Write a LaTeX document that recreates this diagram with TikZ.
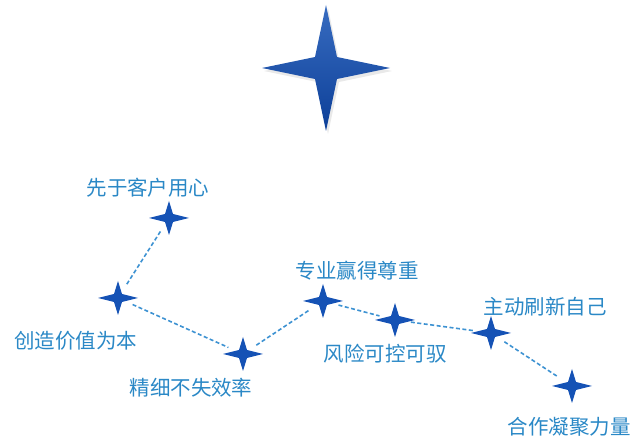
\documentclass[tikz,border=0pt]{standalone}
\usepackage{fontspec}
\setmainfont{Noto Sans CJK SC}
\definecolor{starblue}{HTML}{1552B5}
\definecolor{stardark}{HTML}{0C3F98}
\definecolor{labelblue}{HTML}{2A88C6}
\definecolor{lineblue}{HTML}{3D92D2}
\tikzset{
  lbl/.style={font=\fontsize{20.5}{20.5}\selectfont, text=labelblue, inner sep=0pt},
  link/.style={draw=lineblue, line width=1.6pt, dash pattern=on 4pt off 2.5pt, shorten <=16pt, shorten >=16pt},
  smallstar/.pic={\fill[starblue] (-20,0) -- (-4,-4) -- (0,-17) -- (4,-4) -- (20,0) -- (4,4) -- (0,17) -- (-4,4) -- cycle;},
}
\begin{document}
\begin{tikzpicture}[x=1pt,y=-1pt]
\useasboundingbox (0,0) rectangle (633,446);
% big star
\coordinate (big) at (326,68);
\fill[black!25, opacity=0.35] ([shift={(2,3)}]big) ++(-64,0) -- ++(53,-11) -- ++(11,-52) -- ++(11,52) -- ++(53,11) -- ++(-53,11) -- ++(-11,52) -- ++(-11,-52) -- cycle;
\shade[top color=starblue!85!white, bottom color=stardark] (big) ++(-64,0) -- ++(53,-11) -- ++(11,-52) -- ++(11,52) -- ++(53,11) -- ++(-53,11) -- ++(-11,52) -- ++(-11,-52) -- cycle;
% small stars
\coordinate (s1) at (169,218);
\coordinate (s2) at (118,298);
\coordinate (s3) at (243,354);
\coordinate (s4) at (323,301);
\coordinate (s5) at (395,320);
\coordinate (s6) at (491,333);
\coordinate (s7) at (572,386);
\foreach \s in {s1,s2,s3,s4,s5,s6,s7} \pic at (\s) {smallstar};
% connectors
\draw[link] (s1) -- (s2);
\draw[link] (s2) -- (s3);
\draw[link] (s3) -- (s4);
\draw[link] (s4) -- (s5);
\draw[link] (s5) -- (s6);
\draw[link] (s6) -- (s7);
% labels
\node[lbl] (l1) at (148,188) {先于客户用心};
\node[lbl] (l2) at (76,341) {创造价值为本};
\node[lbl] (l3) at (191,388) {精细不失效率};
\node[lbl] (l4) at (357,271) {专业赢得尊重};
\node[lbl] (l5) at (385,354) {风险可控可驭};
\node[lbl] (l6) at (545,307) {主动刷新自己};
\node[lbl] (l7) at (569,427) {合作凝聚力量};
\end{tikzpicture}
\end{document}
